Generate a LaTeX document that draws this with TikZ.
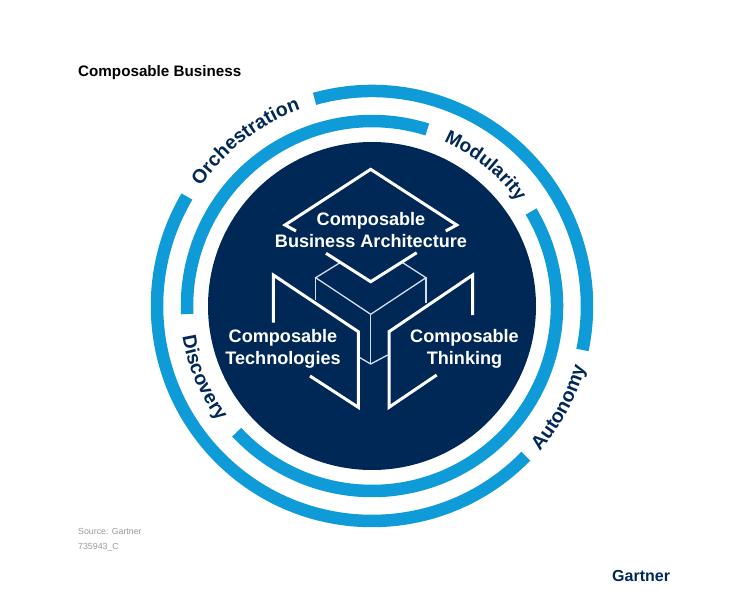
\documentclass[tikz,border=0pt]{standalone}
\usepackage{fontspec}
\setmainfont{Liberation Sans}
\usetikzlibrary{decorations.text}
\definecolor{ringblue}{HTML}{0F9BD7}
\definecolor{navy}{HTML}{002856}
\definecolor{thinline}{HTML}{D3DEEA}
\definecolor{srcgrey}{HTML}{9A9A9A}
\tikzset{
  ring/.style={draw=ringblue,line width=12.5pt},
  frame/.style={draw=white,line width=3pt,miter limit=10},
  cube/.style={draw=thinline,line width=1.3pt},
  inlabel/.style={text=white,font=\fontsize{18.1}{22}\selectfont\bfseries,align=center,inner sep=0pt},
}
\newcommand{\ringtext}[5]{% radius, start, end, size, text
  \path[decorate,decoration={text along path,text align=center,
     text={|\fontsize{#4}{#4}\selectfont\bfseries\color{navy}|#5}}]
     (c) ++(#2:#1) arc[start angle=#2,end angle=#3,radius=#1];}
\begin{document}
\begin{tikzpicture}[x=1pt,y=1pt]
\useasboundingbox (0,-615) rectangle (750,0);
\fill[white] (0,-615) rectangle (750,0);
\coordinate (c) at (372,-306);
\fill[navy] (c) circle[radius=164];
% rings
\draw[ring] (c) ++(105.5:215) arc[start angle=105.5,end angle=-11.8,radius=215];
\draw[ring] (c) ++(-44.3:215) arc[start angle=-44.3,end angle=-210.6,radius=215];
\draw[ring] (c) ++(30.7:185) arc[start angle=30.7,end angle=-137,radius=185];
\draw[ring] (c) ++(182.5:185) arc[start angle=182.5,end angle=72.6,radius=185];
% curved labels
\ringtext{209}{150}{105}{19.5}{Orchestration}
\ringtext{179}{73}{29}{19}{Modularity}
\ringtext{192}{181}{225}{19.5}{Discovery}
\ringtext{222}{-47}{-10}{19.5}{Autonomy}
\begin{scope}[y=-1pt]
% cube
\draw[cube] (340,262.7) -- (315.7,277.7) -- (370.7,314.3) -- (426,277.7) -- (402.7,262.7);
\draw[cube] (315.7,277.7) -- (315.7,300);
\draw[cube] (426,277.7) -- (426,303.3);
\draw[cube] (370.7,314.3) -- (370.7,364);
\draw[cube] (359.3,357.3) -- (370.7,364) -- (387.7,355);
% frames
\draw[frame] (296,231) -- (285,225) -- (370.7,169.3) -- (456.7,225) -- (445.7,231);
\draw[frame] (326,253.3) -- (370.7,281.7) -- (416.7,252.7);
\draw[frame] (273.3,322.7) -- (273.3,275) -- (358.3,331.7) -- (358.3,407.3) -- (310,376);
\draw[frame] (472.7,315) -- (472.7,275) -- (389,331.7) -- (389,407.3) -- (436.7,375);
% labels
\node[inlabel] (arch) at (371,230) {Composable\\Business Architecture};
\node[inlabel] (tech) at (283,348.5) {Composable\\Technologies};
\node[inlabel] (think) at (464.5,348.5) {Composable\\Thinking};
\node[anchor=base west,inner sep=0pt,font=\fontsize{15.2}{16}\selectfont\bfseries] (title) at (78,76.5) {Composable Business};
\node[anchor=base west,inner sep=0pt,text=srcgrey,font=\fontsize{8.8}{10}\selectfont] (source) at (78,534.5) {Source: Gartner};
\node[anchor=base west,inner sep=0pt,text=srcgrey,font=\fontsize{8.8}{10}\selectfont] (code) at (78,549.5) {735943\_C};
\node[anchor=base west,inner sep=0pt,text=navy,font=\fontsize{16}{18}\selectfont\bfseries] (logo) at (612,581) {Gartner};
\end{scope}
\end{tikzpicture}
\end{document}
